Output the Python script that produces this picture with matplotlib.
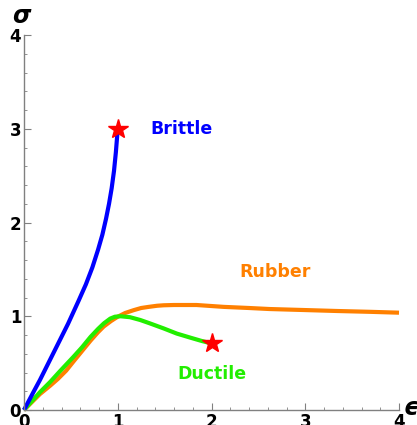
import matplotlib
matplotlib.use('Agg')
import matplotlib.pyplot as plt
from matplotlib.ticker import MultipleLocator

# strain / stress samples for each material
brittle_eps = [0.0, 0.1, 0.17, 0.25, 0.38, 0.47, 0.58, 0.66, 0.729, 0.79, 0.836, 0.875, 0.907, 0.935, 0.96, 0.98, 1.0]
brittle_sig = [0.0, 0.19, 0.32, 0.48, 0.74, 0.92, 1.16, 1.34, 1.52, 1.71, 1.87, 2.04, 2.20, 2.365, 2.55, 2.75, 3.0]

ductile_eps = [0.0, 0.17, 0.28, 0.38, 0.53, 0.62, 0.71, 0.79, 0.853, 0.92, 0.97, 1.03, 1.13, 1.24, 1.34, 1.49, 1.63, 1.78, 1.9, 2.0]
ductile_sig = [0.0, 0.19, 0.30, 0.41, 0.57, 0.67, 0.78, 0.865, 0.925, 0.975, 0.995, 1.0, 0.99, 0.96, 0.925, 0.87, 0.815, 0.77, 0.735, 0.71]

rubber_eps = [0.0, 0.17, 0.28, 0.36, 0.45, 0.53, 0.62, 0.71, 0.79, 0.85, 0.93, 1.0, 1.08, 1.17, 1.25, 1.33, 1.42, 1.49, 1.6,
              1.84, 2.13, 2.4, 2.62, 3.0, 3.34, 3.7, 4.0]
rubber_sig = [0.0, 0.17, 0.26, 0.33, 0.42, 0.52, 0.63, 0.74, 0.83, 0.89, 0.95, 0.995, 1.035, 1.065, 1.088, 1.10, 1.112, 1.117, 1.12,
              1.12, 1.10, 1.088, 1.077, 1.066, 1.056, 1.047, 1.038]

# fracture points
break_eps = [1.0, 2.0]
break_sig = [3.0, 0.71]

blue = '#0000ff'
green = '#22ee00'
orange = '#ff8000'
axis_gray = '#808080'

fig = plt.figure(figsize=(4.17, 4.25), dpi=100)
ax = fig.add_axes([24 / 417, 15 / 425, 375 / 417, 375 / 425])

line_kw = dict(lw=3, solid_capstyle='butt', solid_joinstyle='round', clip_on=False)
ax.plot(rubber_eps, rubber_sig, color=orange, **line_kw)
ax.plot(ductile_eps, ductile_sig, color=green, **line_kw)
ax.plot(brittle_eps, brittle_sig, color=blue, **line_kw)
ax.plot(break_eps, break_sig, linestyle='none', marker='*', ms=15, color='red',
        markeredgecolor='red', clip_on=False, zorder=5)

ax.text(1.35, 3.0, 'Brittle', color=blue, fontsize=12.5, fontweight='bold', ha='left', va='center')
ax.text(2.3, 1.47, 'Rubber', color=orange, fontsize=12.5, fontweight='bold', ha='left', va='center')
ax.text(1.64, 0.38, 'Ductile', color=green, fontsize=12.5, fontweight='bold', ha='left', va='center')

# axis symbols at the ends of the axes
ax.text(-0.03, 4.2, 'σ', fontsize=17, fontweight='bold', style='italic',
        ha='center', va='center', clip_on=False)
ax.text(4.12, 0.02, 'ϵ', fontsize=17, fontweight='bold', style='italic',
        ha='center', va='center', clip_on=False)

ax.set_xlim(0, 4)
ax.set_ylim(0, 4)
for side in ('top', 'right'):
    ax.spines[side].set_visible(False)
for side in ('left', 'bottom'):
    ax.spines[side].set_color(axis_gray)
    ax.spines[side].set_linewidth(1.0)

ax.xaxis.set_major_locator(MultipleLocator(1))
ax.yaxis.set_major_locator(MultipleLocator(1))
ax.xaxis.set_minor_locator(MultipleLocator(0.2))
ax.yaxis.set_minor_locator(MultipleLocator(0.2))
ax.tick_params(which='major', direction='in', length=5, width=0.8, color=axis_gray,
               labelsize=12, pad=2)
ax.tick_params(which='minor', direction='in', length=2.5, width=0.6, color=axis_gray)
for lab in ax.get_xticklabels() + ax.get_yticklabels():
    lab.set_fontweight('bold')

fig.savefig('out.png', dpi=100)
plt.close(fig)
